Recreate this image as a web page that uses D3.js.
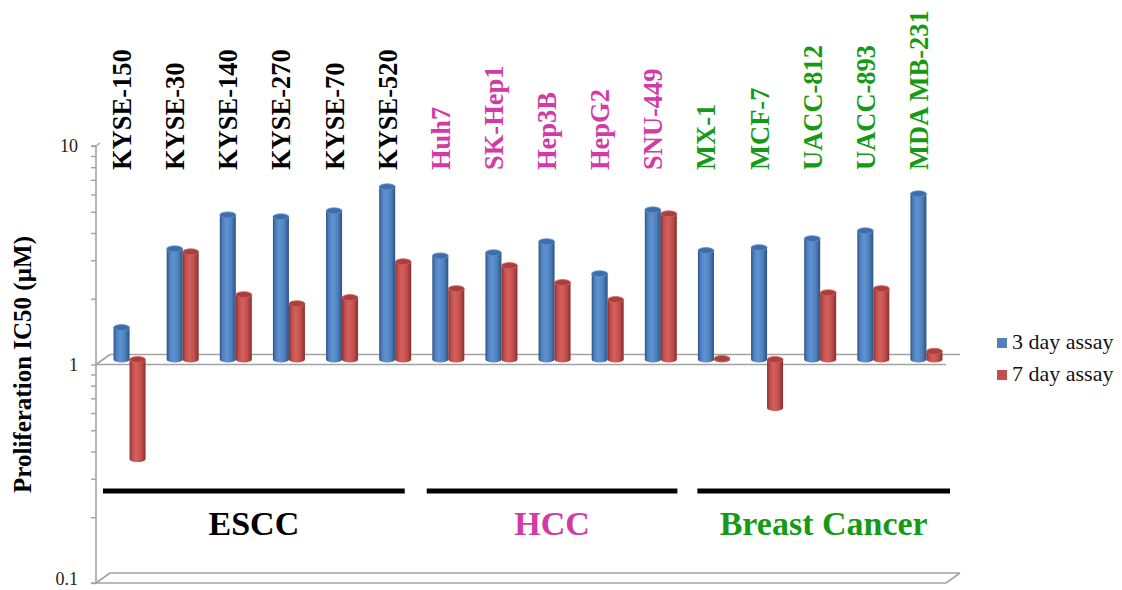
<!DOCTYPE html>
<html>
<head>
<meta charset="utf-8">
<script src="https://cdn.jsdelivr.net/npm/d3@7"></script>
<style>
  html, body { margin: 0; padding: 0; background: #fff; }
  svg { display: block; }
  svg text { font-family: "Liberation Serif", "Times New Roman", Times, serif; }
</style>
</head>
<body>
<svg id="chart" width="1122" height="590"></svg>
<script>
// Cell lines, in drawing order, with the cancer type each belongs to
const cellLines = ["KYSE-150", "KYSE-30", "KYSE-140", "KYSE-270", "KYSE-70", "KYSE-520",
                   "Huh7", "SK-Hep1", "Hep3B", "HepG2", "SNU-449",
                   "MX-1", "MCF-7", "UACC-812", "UACC-893", "MDA MB-231"];
const cellGroups = ["ESCC", "ESCC", "ESCC", "ESCC", "ESCC", "ESCC",
                    "HCC", "HCC", "HCC", "HCC", "HCC",
                    "Breast Cancer", "Breast Cancer", "Breast Cancer", "Breast Cancer", "Breast Cancer"];
const groupNames = ["ESCC", "HCC", "Breast Cancer"];
const groupColors = ["#000000", "#d23aa6", "#169a16"];

// Proliferation IC50 (µM)
const threeDay = [1.40, 3.21, 4.59, 4.50, 4.79, 6.17, 2.98, 3.08, 3.46, 2.47, 4.84, 3.15, 3.25, 3.57, 3.88, 5.73];
const sevenDay = [0.35, 3.11, 1.98, 1.80, 1.92, 2.80, 2.11, 2.69, 2.25, 1.88, 4.64, 1.01, 0.60, 2.02, 2.11, 1.09];
const seriesNames = ["3 day assay", "7 day assay"];

// Log axis ticks
const yTickValues = [0.1, 0.2, 0.3, 0.4, 0.5, 0.6, 0.7, 0.8, 0.9, 1, 2, 3, 4, 5, 6, 7, 8, 9, 10];
const yTickLabels = ["0.1", "1", "10"];

const svg = d3.select("#chart");
const serif = "'Liberation Serif', 'Times New Roman', Times, serif";

const plotLeft = 96, plotRight = 946, plotTop = 146, plotBottom = 583;
const depth = { dx: 14, dy: -10 };        // offset from front edge to back wall
const mid = { dx: depth.dx / 2, dy: depth.dy / 2 }; // bars stand half-way in depth

const y = d3.scaleLog().domain([0.1, 10]).range([plotBottom, plotTop]);
const x = d3.scaleBand().domain(cellLines).range([plotLeft, plotRight]).paddingInner(0).paddingOuter(0);
const barW = 16;
const xs = d3.scaleBand().domain(seriesNames).range([0, barW * 2]);

const blue = { light: "#5e92d2", base: "#4f81bd", dark: "#2c5283", cap: "#3f6da8" };
const red = { light: "#d65f5c", base: "#c0504d", dark: "#8a2f2d", cap: "#a8403e" };
const palette = [blue, red];

// Cylinder shading gradients
const defs = svg.append("defs");
palette.forEach((c, i) => {
  const g = defs.append("linearGradient").attr("id", "cyl" + i)
    .attr("x1", "0%").attr("x2", "100%").attr("y1", "0%").attr("y2", "0%");
  g.append("stop").attr("offset", "0%").attr("stop-color", c.dark);
  g.append("stop").attr("offset", "18%").attr("stop-color", c.base);
  g.append("stop").attr("offset", "42%").attr("stop-color", c.light);
  g.append("stop").attr("offset", "72%").attr("stop-color", c.base);
  g.append("stop").attr("offset", "100%").attr("stop-color", c.dark);
});

const grey = "#a3a3a3";

// Planes at value 1 (where bars start) and at the floor (0.1)
function plane(v, closeRight) {
  const yf = y(v);
  const g = svg.append("g").attr("fill", "none").attr("stroke", grey).attr("stroke-width", 1.6);
  g.append("line").attr("x1", plotLeft).attr("x2", plotRight).attr("y1", yf).attr("y2", yf);
  g.append("line").attr("x1", plotLeft + depth.dx).attr("x2", plotRight + depth.dx)
    .attr("y1", yf + depth.dy).attr("y2", yf + depth.dy);
  g.append("line").attr("x1", plotLeft).attr("y1", yf).attr("x2", plotLeft + depth.dx).attr("y2", yf + depth.dy);
  if (closeRight) {
    g.append("line").attr("x1", plotRight).attr("y1", yf).attr("x2", plotRight + depth.dx).attr("y2", yf + depth.dy);
  }
}
plane(0.1, true);
plane(1, false);

// Value axis
const axis = d3.axisLeft(y)
  .tickValues(yTickValues)
  .tickSize(5)
  .tickPadding(13)
  .tickFormat(d => {
    const s = d3.format("~g")(d);
    return yTickLabels.includes(s) ? s : "";
  });
const ag = svg.append("g").attr("transform", `translate(${plotLeft},0)`).call(axis)
  .attr("font-family", serif);
ag.select(".domain").attr("stroke", grey).attr("stroke-width", 1.6).attr("d", `M-5,${plotTop}H0V${plotBottom}H-5`);
ag.selectAll(".tick line").attr("stroke", grey).attr("stroke-width", 1.4);
ag.selectAll(".tick text").attr("fill", "#222").attr("font-size", 18)
  .attr("dy", d => d === 0.1 ? "0.1em" : "0.32em");
svg.append("line").attr("x1", plotLeft).attr("y1", plotTop).attr("x2", plotLeft + 4).attr("y2", plotTop - 3)
  .attr("stroke", grey).attr("stroke-width", 1.4);

// Axis title
svg.append("text")
  .attr("transform", `translate(31,${(plotTop + plotBottom) / 2}) rotate(-90)`)
  .attr("text-anchor", "middle")
  .attr("font-size", 25).attr("font-weight", "bold").attr("fill", "#000")
  .text("Proliferation IC50 (µM)");

// Bars as cylinders rising from (or hanging below) the value-1 plane
const rows = [];
cellLines.forEach((c, i) => {
  [threeDay[i], sevenDay[i]].forEach((v, s) => rows.push({ cell: c, series: seriesNames[s], s, v }));
});
const rx = barW / 2, ry = 3;
const bars = svg.append("g").selectAll("g").data(rows).join("g")
  .attr("transform", d => `translate(${x(d.cell) + (x.bandwidth() - barW * 2) / 2 + xs(d.series) + mid.dx},${mid.dy})`);
bars.each(function (d) {
  const g = d3.select(this);
  const y0 = y(1), y1 = y(d.v);
  const ya = Math.min(y0, y1), yb = Math.max(y0, y1);
  const c = palette[d.s];
  g.append("path")
    .attr("d", `M0,${ya}V${yb}A${rx},${ry} 0 0 0 ${barW},${yb}V${ya}Z`)
    .attr("fill", `url(#cyl${d.s})`);
  g.append("ellipse").attr("cx", rx).attr("cy", ya).attr("rx", rx).attr("ry", ry)
    .attr("fill", c.cap).attr("stroke", c.light).attr("stroke-width", 0.8);
});

// Cell line labels above the bars
svg.append("g").selectAll("text").data(cellLines).join("text")
  .attr("transform", d => `translate(${x(d) + x.bandwidth() / 2 + 8.5},170) rotate(-90)`)
  .attr("font-size", 26.5).attr("font-weight", "bold")
  .attr("fill", (d, i) => groupColors[groupNames.indexOf(cellGroups[i])])
  .text(d => d);

// Group brackets and names
groupNames.forEach((gname, gi) => {
  const members = cellLines.filter((c, i) => cellGroups[i] === gname);
  const x0 = x(members[0]) + 7 + 5 * gi;
  const x1 = x(members[members.length - 1]) + x.bandwidth() - 10 + 7 * gi;
  svg.append("line").attr("x1", x0).attr("x2", x1).attr("y1", 491).attr("y2", 491)
    .attr("stroke", "#000").attr("stroke-width", 5);
  svg.append("text").attr("x", (x0 + x1) / 2).attr("y", 535)
    .attr("text-anchor", "middle").attr("font-size", 34).attr("font-weight", "bold")
    .attr("fill", groupColors[gi]).text(gname);
});

// Legend
const legend = svg.append("g").selectAll("g").data(seriesNames).join("g")
  .attr("transform", (d, i) => `translate(997,${338 + i * 32})`);
legend.append("rect").attr("width", 10).attr("height", 10)
  .attr("fill", (d, i) => palette[i].base);
legend.append("text").attr("x", 15).attr("y", 11).attr("font-size", 22).attr("fill", "#111")
  .attr("font-family", serif).text(d => d);
</script>
</body>
</html>
